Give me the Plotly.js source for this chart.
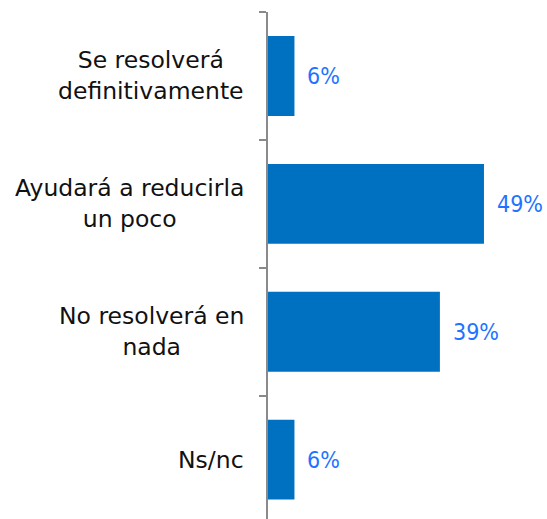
<!DOCTYPE html>
<html>
<head>
<meta charset="utf-8">
<script src="https://cdn.plot.ly/plotly-3.0.1.min.js"></script>
<style>html,body{margin:0;padding:0;background:#fff;overflow:hidden}</style>
</head>
<body>
<div id="chart" style="width:547px;height:519px"></div>
<script>
const categories = ["Se resolverá<br>definitivamente", "Ayudará a reducirla<br>un poco", "No resolverá en<br>nada", "Ns/nc"];
const values = [6, 49, 39, 6];
const valueLabels = ["6%", "49%", "39%", "6%"];

const font = "DejaVu Sans, Verdana, sans-serif";
const valFont = "DejaVu Sans Condensed, Liberation Sans, Arial, sans-serif";
const catAnn = categories.map((c, i) => ({
  xref: "paper", yref: "y", x: -0.078, y: i, text: c, showarrow: false,
  xanchor: "right", yanchor: "middle", align: "center",
  font: {family: font, size: 23.5, color: "#111"}
}));
const valAnn = values.map((v, i) => ({
  xref: "x", yref: "y", x: v, y: i, text: valueLabels[i], showarrow: false,
  xanchor: "left", yanchor: "middle", xshift: 11,
  font: {family: valFont, size: 23, color: "#1f74ff"}
}));

Plotly.newPlot("chart", [{
  type: "bar", orientation: "h",
  x: values, y: categories.map((c, i) => i),
  marker: {color: "#0070c0"},
  hoverinfo: "none"
}], {
  width: 547, height: 519,
  margin: {l: 268, r: 0, t: 12, b: 0, pad: 0},
  paper_bgcolor: "#fff", plot_bgcolor: "#fff",
  bargap: 0.375,
  showlegend: false,
  xaxis: {range: [0, 63.3], visible: false, fixedrange: true},
  yaxis: {
    range: [3.464, -0.5], tickmode: "array", tickvals: [-0.5, 0.5, 1.5, 2.5, 3.5],
    showticklabels: false, ticks: "outside", ticklen: 7, tickwidth: 2, tickcolor: "#8a8a8a",
    showline: true, linecolor: "#8a8a8a", linewidth: 2, showgrid: false, zeroline: false
  },
  annotations: catAnn.concat(valAnn)
}, {displayModeBar: false, staticPlot: true});
</script>
</body>
</html>
